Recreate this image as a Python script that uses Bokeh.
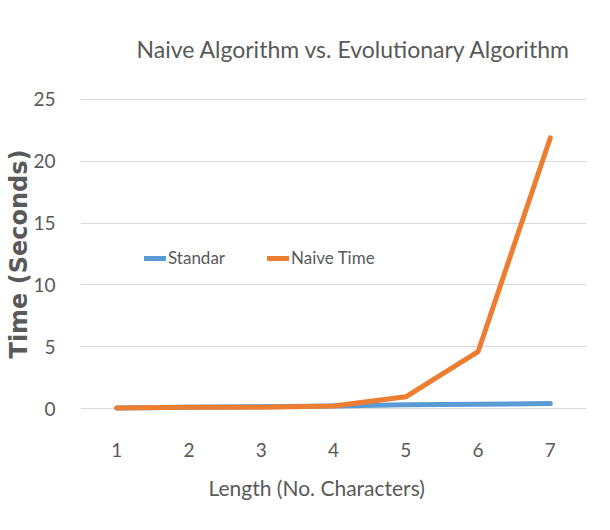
from bokeh.plotting import figure
from bokeh.models import FactorRange, Range1d, FixedTicker, Legend, LegendItem, Title
from bokeh.embed import file_html
from bokeh.resources import INLINE

lengths = ["1", "2", "3", "4", "5", "6", "7"]
standard_time = [0.05, 0.1, 0.15, 0.2, 0.3, 0.35, 0.4]
naive_time = [0.05, 0.1, 0.1, 0.2, 0.95, 4.6, 21.9]
y_ticks = [0, 5, 10, 15, 20, 25]

FONT = "Lato"
TXT = "#595959"

p = figure(width=594, height=514, output_backend="svg", toolbar_location=None,
           x_range=FactorRange(*lengths, range_padding=0),
           y_range=Range1d(-0.4, 25.4),
           min_border_left=80, min_border_right=8, min_border_top=90, min_border_bottom=101,
           title="Naive Algorithm vs. Evolutionary Algorithm")
p.outline_line_color = None
p.background_fill_color = "white"
p.border_fill_color = "white"

p.title.align = "left"
p.title.offset = 56
p.title.standoff = 64
p.title.text_font = FONT
p.title.text_font_size = "23px"
p.title.text_font_style = "normal"
p.title.text_color = TXT

r1 = p.line(lengths, standard_time, line_color="#5B9BD5", line_width=5, line_cap="round", line_join="round")
r2 = p.line(lengths, naive_time, line_color="#ED7D31", line_width=5, line_cap="round", line_join="round")

p.yaxis.ticker = FixedTicker(ticks=y_ticks)
p.xgrid.grid_line_color = None
p.ygrid.grid_line_color = "#d9d9d9"
p.ygrid.grid_line_width = 1
for ax in (p.xaxis[0], p.yaxis[0]):
    ax.axis_line_color = None
    ax.major_tick_line_color = None
    ax.minor_tick_line_color = None
    ax.major_label_text_font = FONT
    ax.major_label_text_font_size = "19px"
    ax.major_label_text_color = TXT
p.yaxis.major_label_standoff = 19
p.xaxis.major_label_standoff = 23

xlabel = Title(text="Length (No. Characters)", align="left", offset=128, standoff=27,
               text_font=FONT, text_font_size="21px", text_font_style="normal", text_color=TXT)
p.add_layout(xlabel, "below")

p.yaxis.axis_label = "Time (Seconds)"
p.yaxis.axis_label_text_font = "DejaVu Sans"
p.yaxis.axis_label_text_font_size = "24px"
p.yaxis.axis_label_text_font_style = "bold"
p.yaxis.axis_label_text_color = TXT
p.yaxis.axis_label_standoff = -3

legend = Legend(items=[LegendItem(label="Standar", renderers=[r1]),
                       LegendItem(label="Naive Time", renderers=[r2])],
                orientation="horizontal", location=(64, 145),
                label_text_font=FONT, label_text_font_size="17px", label_text_color=TXT,
                glyph_width=22, glyph_height=20, label_standoff=2, spacing=42,
                padding=0, margin=0, border_line_color=None, background_fill_alpha=0)
p.add_layout(legend)

open("out.html", "w").write(file_html(p, INLINE))
